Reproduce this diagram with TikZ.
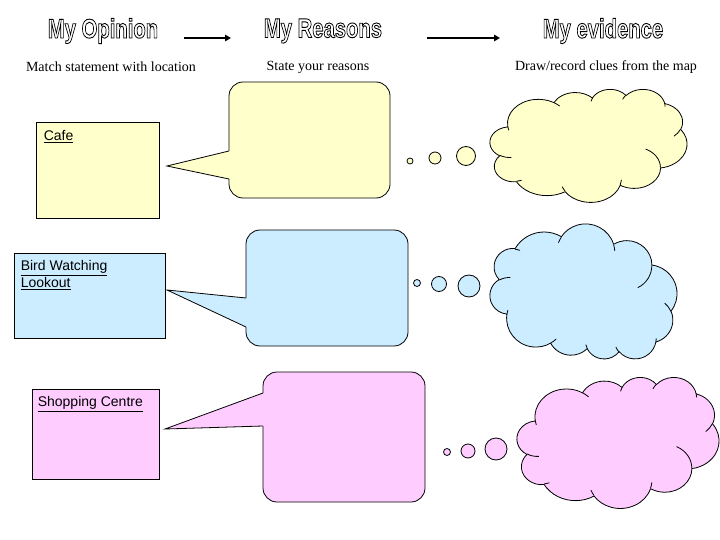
\documentclass[tikz,border=0pt]{standalone}
\usepackage{fontspec}
\setmainfont{Liberation Serif}
\setsansfont{Liberation Sans}
\newfontfamily\titlefont{Liberation Sans}
\usetikzlibrary{arrows.meta}
\definecolor{cyel}{HTML}{FFFFCC}
\definecolor{cblu}{HTML}{CCECFF}
\definecolor{cpnk}{HTML}{FFCCFF}
\newcommand{\outlinedtext}[1]{%
  \special{pdf:literal direct 1 Tr 0.9 w 0 G}#1\special{pdf:literal direct 0 Tr}}
% elliptical arc given with visual angles (as in an Office shape), positive sweep
\newcommand{\msarc}[4]{arc[x radius=#1, y radius=#2,
  start angle={atan2((#1)*sin(#3),(#2)*cos(#3))},
  delta angle={mod(atan2((#1)*sin((#3)+(#4)),(#2)*cos((#3)+(#4)))-atan2((#1)*sin(#3),(#2)*cos(#3))+720,360)}]}
% cloud: #1 name, #2 left, #3 top, #4 width, #5 height, #6 colour, #7 origin corner, #8 y sign
\newcommand{\mscloud}[8]{%
  \node[inner sep=0pt, minimum width=#4pt, minimum height=#5pt, anchor=north west] (#1) at (#2,#3) {};
  \pgfmathsetmacro\cloudsx{#4/432}\pgfmathsetmacro\cloudsy{#5/432}%
  \begin{scope}[shift={(#1.#7)}, x=\cloudsx pt, y=#8\cloudsy pt]
  \draw[cloudline, fill=#6] (39.00,143.70)
    \msarc{67.53}{91.90}{-190.4875}{123.7805}
    \msarc{53.33}{72.67}{-144.1024}{89.9452}
    \msarc{43.65}{59.45}{-145.8079}{99.7230}
    \msarc{48.57}{65.95}{-130.9861}{117.2417}
    \msarc{53.33}{72.73}{-78.7089}{109.0269}
    \msarc{67.75}{92.20}{-46.2673}{130.2690}
    \msarc{57.85}{78.67}{0.6250}{114.0333}
    \msarc{67.52}{92.15}{22.4516}{115.1726}
    \msarc{77.20}{105.43}{66.2426}{75.7110}
    \msarc{43.60}{59.18}{-274.9421}{146.7356}
    \msarc{43.45}{59.45}{-246.8285}{152.5189} -- cycle;
  \draw[cloudline]
    (46.93,261.77) \msarc{43.45}{59.45}{86.7420}{26.4295}
    (69.28,348.99) \msarc{43.60}{59.18}{73.6105}{11.4475}
    (164.78,390.90) \msarc{67.52}{92.15}{137.6242}{14.0811}
    (288.27,347.51) \msarc{67.52}{92.15}{6.4533}{15.9984}
    (341.29,229.54) \msarc{57.85}{78.67}{-70.2924}{70.9174}
    (417.98,153.54) \msarc{53.33}{72.73}{30.3180}{27.7515}
    (383.24,54.26) \msarc{48.57}{65.95}{-13.7443}{14.8589}
    (290.78,39.52) \msarc{48.57}{65.95}{-149.1815}{18.1954}
    (221.41,47.20) \msarc{43.65}{59.45}{-163.4943}{17.6864}
    (140.00,51.92) \msarc{67.53}{91.90}{-66.7070}{12.3194}
    (41.27,157.89) \msarc{67.53}{91.90}{157.6544}{11.8582};
  \end{scope}}
\tikzset{
  titlestyle/.style={inner sep=0pt, font=\titlefont\bfseries\fontsize{27}{30}\selectfont},
  substyle/.style={inner sep=0pt, font=\fontsize{14}{16}\selectfont},
  headarrow/.style={line width=2pt, -{Triangle[length=6pt,width=6.5pt]}},
  optbox/.style={draw, line width=0.8pt, inner sep=0pt},
  boxtext/.style={inner sep=0pt, anchor=north west, align=left, font=\sffamily\fontsize{14}{17}\selectfont},
  rsbox/.style={draw, line width=0.8pt, rounded corners=14pt, inner sep=0pt},
  tailline/.style={line width=0.8pt, line join=miter},
  bubble/.style={draw, circle, line width=0.8pt, inner sep=0pt},
  cloudline/.style={line width=0.8pt, line join=round}
}
\begin{document}
\begin{tikzpicture}[x=1pt,y=-1pt]
\useasboundingbox (0,0) rectangle (720,540);
% titles
\node[titlestyle] (t1) at (103,31) {\scalebox{0.75}[1]{\outlinedtext{My Opinion}}};
\node[titlestyle] (t2) at (323,31) {\scalebox{0.75}[1]{\outlinedtext{My Reasons}}};
\node[titlestyle] (t3) at (603,31) {\scalebox{0.75}[1]{\outlinedtext{My evidence}}};
\coordinate (a1s) at (184,38); \coordinate (a1e) at (231,38);
\coordinate (a2s) at (427,38); \coordinate (a2e) at (500,38);
\draw[headarrow] (a1s) -- (a1e);
\draw[headarrow] (a2s) -- (a2e);
\node[substyle] (s1) at (111,67) {Match statement with location};
\node[substyle] (s2) at (318,67) {State your reasons};
\node[substyle] (s3) at (606,67) {Draw/record clues from the map};

% opinion boxes
\node[optbox, fill=cyel, minimum width=123pt, minimum height=96pt] (op1) at (97.5,170) {};
\node[boxtext] (op1t) at ([shift={(8,8.5)}]op1.north west) {\underline{Cafe}};
\node[optbox, fill=cblu, minimum width=151pt, minimum height=85pt] (op2) at (89.5,295.5) {};
\node[boxtext] (op2t) at ([shift={(7,7.5)}]op2.north west) {\underline{Bird Watching}\\\underline{Lookout}};
\node[optbox, fill=cpnk, minimum width=127pt, minimum height=90pt] (op3) at (95.5,434) {};
\node[boxtext] (op3t) at ([shift={(6,7.5)}]op3.north west) {\underline{Shopping Centre}};

% reasons callouts
\node[rsbox, fill=cyel, minimum width=161pt, minimum height=116pt] (rs1) at (309.5,140) {};
\coordinate (tip1) at (167,166);
\fill[cyel] (tip1) -- (229,151) -- (230.8,151) -- (230.8,179) -- (229,179) -- cycle;
\draw[tailline] (229,151) -- (tip1) -- (229,179);

\node[rsbox, fill=cblu, minimum width=162pt, minimum height=116pt] (rs2) at (327,288) {};
\coordinate (tip2) at (167,290);
\fill[cblu] (tip2) -- (246,298) -- (247.8,298) -- (247.8,327) -- (246,327) -- cycle;
\draw[tailline] (246,298) -- (tip2) -- (246,327);

\node[rsbox, fill=cpnk, minimum width=162pt, minimum height=130pt] (rs3) at (344,437) {};
\coordinate (tip3) at (165,429);
\fill[cpnk] (tip3) -- (263,393) -- (264.8,393) -- (264.8,426) -- (263,426) -- cycle;
\draw[tailline] (263,393) -- (tip3) -- (263,426);

% thought bubbles
\node[bubble, fill=cyel, minimum size=6pt] (b11) at (410,161) {};
\node[bubble, fill=cyel, minimum size=12pt] (b12) at (435,158) {};
\node[bubble, fill=cyel, minimum size=19pt] (b13) at (466,156) {};
\mscloud{ev1}{490}{89}{197}{113}{cyel}{north west}{-}

\node[bubble, fill=cblu, minimum size=7pt] (b21) at (417,283) {};
\node[bubble, fill=cblu, minimum size=15pt] (b22) at (439,284) {};
\node[bubble, fill=cblu, minimum size=22pt] (b23) at (469,286) {};
\mscloud{ev2}{490}{224}{187}{135}{cblu}{south west}{}

\node[bubble, fill=cpnk, minimum size=7pt] (b31) at (447,452) {};
\node[bubble, fill=cpnk, minimum size=14pt] (b32) at (468,451) {};
\node[bubble, fill=cpnk, minimum size=22pt] (b33) at (496,449) {};
\mscloud{ev3}{517}{377}{202}{131}{cpnk}{north west}{-}
\end{tikzpicture}
\end{document}
